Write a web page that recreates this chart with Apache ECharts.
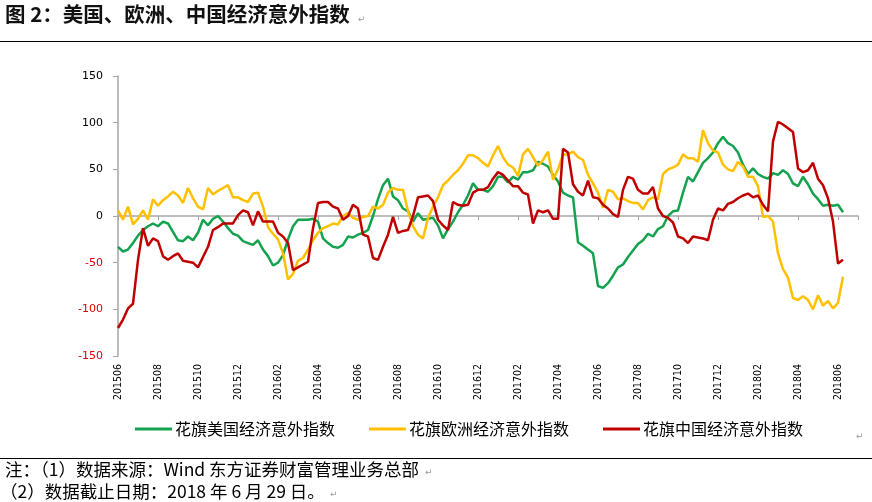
<!DOCTYPE html>
<html><head><meta charset="utf-8">
<script src="https://cdn.jsdelivr.net/npm/echarts@6/dist/echarts.min.js"></script>
<style>html,body{margin:0;padding:0;background:#fff}#c{width:872px;height:502px}</style>
</head><body><div id="c"></div>
<script>
// x position of every sample, in months since 2015-06 (one sample per quarter month)
const STEP = 0.25;
const tickLabels = ['201506','201508','201510','201512','201602','201604','201606','201608','201610','201612',
  '201702','201704','201706','201708','201710','201712','201802','201804','201806'];
const seriesNames = ['花旗美国经济意外指数','花旗欧洲经济意外指数','花旗中国经济意外指数'];
const usValues = [-33,-38,-36,-29,-21,-15,-11,-8,-11,-6,-8,-17,-26,-27,-22,-26,-18,-4,-10,-3,0,-6,-13,-19,-21,-27,-29,-31,-26,-36,-43,-53,-50,-42,-25,-11,-4,
  -4,-4,-3,-6,-24,-29,-33,-34,-31,-22,-23,-20,-18,-15,0,18,33,40,21,17,8,5,-6,3,-4,-3,-2,-10,-24,-14,-6,4,12,22,35,28,28,26,
  32,42,42,36,42,39,47,47,49,58,56,53,44,37,25,22,20,-28,-32,-36,-40,-75,-77,-72,-64,-55,-52,-44,-37,-30,-26,-19,-22,-14,-11,0,5,
  6,25,42,37,47,57,62,68,78,85,78,75,68,55,45,51,45,42,40,46,44,49,45,35,32,42,34,24,18,11,12,11,12,4];
const euValues = [6,-4,10,-9,-3,6,-4,18,11,17,21,26,22,14,30,19,10,7,30,23,27,30,33,20,20,17,15,24,25,10,-12,-19,-25,-40,-68,-62,-48,
  -45,-36,-26,-18,-13,-11,-8,-9,0,3,-2,-4,-1,0,10,8,12,25,30,28,28,5,-11,-20,-24,-2,10,20,33,38,44,49,56,65,65,62,57,53,
  65,75,63,55,52,43,66,72,63,54,60,69,39,50,66,66,69,63,60,44,35,25,9,28,26,18,19,16,14,14,7,17,20,18,45,50,52,
  55,66,62,62,58,92,78,70,68,55,50,48,58,53,42,42,32,-1,0,-6,-40,-57,-66,-88,-90,-86,-90,-100,-85,-96,-91,-99,-93,-65];
const cnValues = [-120,-111,-99,-94,-47,-13,-32,-24,-27,-43,-47,-43,-40,-48,-49,-50,-55,-44,-33,-15,-12,-8,-8,-8,1,6,4,-10,5,-6,-6,-6,-18,-22,-29,-58,-55,
  -52,-49,-13,14,15,15,10,8,-4,0,12,8,-20,-22,-45,-47,-33,-20,-1,-18,-16,-15,0,20,21,22,16,-4,-10,-15,15,12,11,12,25,28,28,31,
  40,47,44,38,32,32,25,23,-8,6,4,6,-3,-3,72,68,34,26,22,38,20,19,12,8,2,-1,28,42,40,28,24,24,31,8,0,-2,-7,
  -22,-24,-29,-22,-23,-24,-26,-4,8,6,13,15,19,22,24,20,22,12,5,80,101,98,94,90,51,47,49,57,40,33,19,-6,-51,-47];
const yTicks = {min:-150, max:150, interval:50};

const colors = ['#14a24e','#ffc000','#c00000'];
const pair = vals => vals.map((v,i)=>[i*STEP, v]);
const allVals = [usValues, euValues, cnValues];

const chart = echarts.init(document.getElementById('c'), null, {renderer:'canvas'});
const cjk = '"Noto Sans CJK SC", sans-serif';
chart.setOption({
  backgroundColor:'#fff',
  animation:false,
  grid:{left:118, right:14, top:76, bottom:146, containLabel:false},
  xAxis:[{
    type:'value', min:0, max:37, interval:2,
    axisLine:{show:false, onZero:false}, axisTick:{show:false}, splitLine:{show:false},
    axisLabel:{rotate:90, margin:8, fontSize:10.5, color:'#000', fontFamily:'"DejaVu Sans Condensed", "DejaVu Sans", sans-serif',
      formatter:v=>tickLabels[v/2] || ''}
  },{
    type:'value', min:0, max:37, interval:2, position:'bottom',
    axisLine:{show:true, onZero:true, lineStyle:{color:'#a6a6a6', width:1.5}},
    axisTick:{show:true, length:4, lineStyle:{color:'#a6a6a6'}},
    axisLabel:{show:false}, splitLine:{show:false}
  }],
  yAxis:{
    type:'value', min:yTicks.min, max:yTicks.max, interval:yTicks.interval,
    axisLine:{show:true, lineStyle:{color:'#a6a6a6', width:1.5}},
    axisTick:{show:true, inside:false, length:5, lineStyle:{color:'#a6a6a6'}},
    splitLine:{show:false},
    axisLabel:{margin:15, fontSize:11, fontFamily:'"DejaVu Sans", sans-serif',
      color:v=>Number(v)<0 ? '#e00000' : '#000'}
  },
  legend:{
    left:130, top:416, itemWidth:37, itemHeight:3, itemGap:34, icon:'rect',
    textStyle:{fontSize:16, color:'#000', fontFamily:cjk, padding:[0,0,0,-2]},
    data:seriesNames
  },
  series: seriesNames.map((n,i)=>({
    name:n, type:'line', xAxisIndex:0, data:pair(allVals[i]), symbol:'none', showSymbol:false,
    lineStyle:{color:colors[i], width:2.5}, itemStyle:{color:colors[i]}, z:2+i
  })),
  graphic:[
    {type:'text', left:5, top:4, style:{text:'图 2：美国、欧洲、中国经济意外指数', font:'bold 20.5px "Noto Sans CJK SC"', fill:'#111'}},
    {type:'text', left:358, top:15, style:{text:'↵', font:'9px "DejaVu Sans"', fill:'#999'}},
    {type:'line', shape:{x1:0,y1:41.5,x2:872,y2:41.5}, style:{stroke:'#000', lineWidth:1}},
    {type:'text', left:856, top:432, style:{text:'↵', font:'9px "DejaVu Sans"', fill:'#999'}},
    {type:'line', shape:{x1:0,y1:458.5,x2:872,y2:458.5}, style:{stroke:'#000', lineWidth:1}},
    {type:'text', left:5, top:461, style:{text:'注：（1）数据来源：Wind 东方证券财富管理业务总部', font:'17.5px "Noto Sans CJK SC"', fill:'#000'}},
    {type:'text', left:425, top:468, style:{text:'↵', font:'9px "DejaVu Sans"', fill:'#999'}},
    {type:'text', left:0, top:483, style:{text:'（2）数据截止日期：2018 年 6 月 29 日。', font:'17.5px "Noto Sans CJK SC"', fill:'#000'}},
    {type:'text', left:330, top:490, style:{text:'↵', font:'9px "DejaVu Sans"', fill:'#999'}}
  ]
});
</script></body></html>
